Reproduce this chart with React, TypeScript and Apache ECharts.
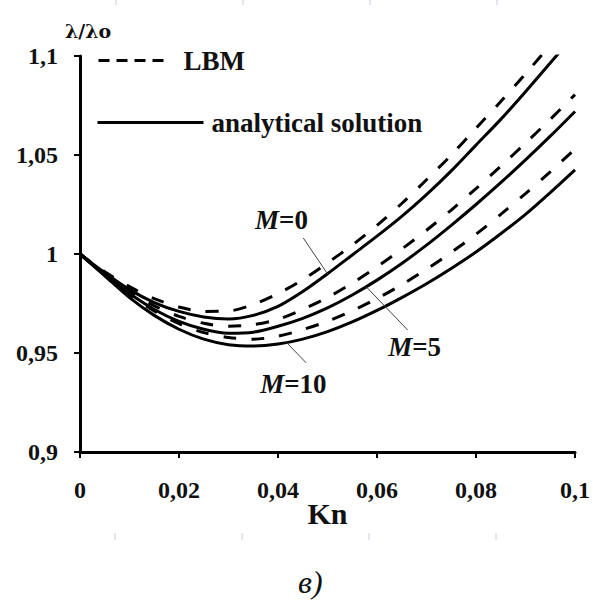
import React, { useEffect, useRef } from "react";
import * as echarts from "echarts";

// Knudsen numbers at which the curves are sampled
const knValues = [
  0, 0.005, 0.01, 0.015, 0.02, 0.025, 0.03, 0.035, 0.04, 0.045, 0.05,
  0.055, 0.06, 0.065, 0.07, 0.075, 0.08, 0.085, 0.09, 0.095, 0.1,
];

// λ/λo, lattice Boltzmann results
const lbmM0 = [
  1, 0.991, 0.9835, 0.9775, 0.9732, 0.971, 0.9712, 0.9745, 0.98, 0.987, 0.9955,
  1.0045, 1.0145, 1.0255, 1.0375, 1.05, 1.0635, 1.077, 1.091, 1.1055, 1.12,
];
const lbmM5 = [
  1, 0.99, 0.981, 0.9738, 0.9685, 0.965, 0.9635, 0.9643, 0.967, 0.972, 0.978,
  0.9853, 0.9935, 1.0025, 1.012, 1.0222, 1.033, 1.0443, 1.056, 1.068, 1.0805,
];
const lbmM10 = [
  1, 0.9895, 0.9795, 0.9712, 0.9648, 0.9603, 0.9578, 0.957, 0.9585, 0.9618, 0.966,
  0.9713, 0.9775, 0.9845, 0.9923, 1.0008, 1.01, 1.02, 1.0305, 1.0415, 1.053,
];

// λ/λo, analytical solution
const anM0 = [
  1, 0.9905, 0.982, 0.9755, 0.971, 0.9682, 0.9672, 0.969, 0.9735, 0.981, 0.99,
  0.9995, 1.009, 1.019, 1.03, 1.042, 1.055, 1.068, 1.082, 1.0965, 1.111,
];
const anM5 = [
  1, 0.9895, 0.98, 0.972, 0.966, 0.962, 0.96, 0.9605, 0.9635, 0.9675, 0.9728,
  0.9793, 0.9868, 0.9952, 1.0045, 1.0145, 1.025, 1.036, 1.0475, 1.0595, 1.072,
];
const anM10 = [
  1, 0.989, 0.978, 0.969, 0.962, 0.957, 0.9542, 0.9535, 0.9545, 0.957, 0.9608,
  0.9657, 0.9715, 0.978, 0.985, 0.9927, 1.001, 1.0102, 1.02, 1.031, 1.0425,
];

const xTickLabels = ["0", "0,02", "0,04", "0,06", "0,08", "0,1"];
const yTickLabels = ["0,9", "0,95", "1", "1,05", "1,1"];

const seriesNames = ["LBM", "analytical solution"];
const mLabels = ["0", "5", "10"];

const FONT = "'Liberation Serif', 'Times New Roman', serif";
const TRANSPARENT = "rgba(0,0,0,0)";

// curve annotations: label centre, leader start, and the Kn where the leader meets its curve
const annotations = [
  { curve: anM0, text: mLabels[0], label: [0.0407, 1.0172], from: [0.0451, 1.0081], atKn: 0.05 },
  { curve: anM5, text: mLabels[1], label: [0.0676, 0.953], from: [0.0662, 0.9616], atKn: 0.0578 },
  { curve: anM10, text: mLabels[2], label: [0.0431, 0.9343], from: [0.0457, 0.945], atKn: 0.0417 },
];

function interp(xs: number[], ys: number[], x: number): number {
  for (let i = 1; i < xs.length; i++) {
    if (x <= xs[i]) {
      const t = (x - xs[i - 1]) / (xs[i] - xs[i - 1]);
      return ys[i - 1] + t * (ys[i] - ys[i - 1]);
    }
  }
  return ys[ys.length - 1];
}

function pairs(vals: number[]) {
  return knValues.map((k, i) => [k, vals[i]]);
}

export default function App() {
  const ref = useRef<HTMLDivElement>(null);

  useEffect(() => {
    if (!ref.current) return;
    const chart = echarts.init(ref.current, null, { renderer: "svg" });

    const dashed = (vals: number[]) => ({
      type: "line",
      name: seriesNames[0],
      data: pairs(vals),
      symbol: "none",
      smooth: 0.3,
      itemStyle: { color: "#000" },
      lineStyle: { color: "#000", width: 3, type: [13, 15] },
      z: 3,
    });
    const solid = (vals: number[]) => ({
      type: "line",
      name: seriesNames[1],
      data: pairs(vals),
      symbol: "none",
      smooth: 0.3,
      itemStyle: { color: "#000" },
      lineStyle: { color: "#000", width: 3, type: "solid" },
      z: 2,
    });

    const legendText = { fontFamily: FONT, fontSize: 27, fontWeight: "bold", color: "#111" };
    const hiddenMarker = { color: TRANSPARENT, borderColor: TRANSPARENT, borderWidth: 0 };

    chart.setOption({
      animation: false,
      backgroundColor: "#fff",
      title: [
        {
          text: "λ/λo",
          left: 65,
          top: 21,
          padding: 0,
          textStyle: { fontFamily: "'DejaVu Serif', serif", fontSize: 19, fontWeight: "bold", color: "#111" },
        },
        {
          text: "в)",
          left: 298,
          top: 566,
          padding: 0,
          textStyle: { fontFamily: FONT, fontSize: 32, fontStyle: "italic", fontWeight: "normal", color: "#111" },
        },
      ],
      legend: [
        {
          data: [seriesNames[0]],
          left: 97,
          top: 47,
          padding: 0,
          itemWidth: 66,
          itemHeight: 14,
          selectedMode: false,
          itemStyle: hiddenMarker,
          lineStyle: { width: 3, type: [11, 7], color: "#000" },
          textStyle: { ...legendText, padding: [0, 0, 0, 14] },
        },
        {
          data: [seriesNames[1]],
          left: 96,
          top: 109,
          padding: 0,
          itemWidth: 106,
          itemHeight: 14,
          selectedMode: false,
          itemStyle: hiddenMarker,
          lineStyle: { width: 3, color: "#000" },
          textStyle: { ...legendText, padding: [0, 0, 0, 3] },
        },
      ],
      grid: { left: 80, right: 14, top: 56, bottom: 148, containLabel: false },
      xAxis: {
        type: "value",
        min: 0,
        max: 0.1,
        interval: 0.02,
        name: "Kn",
        nameLocation: "middle",
        nameGap: 46,
        nameMoveOverlap: false,
        nameTextStyle: { fontFamily: FONT, fontSize: 30, fontWeight: "bold", color: "#111" },
        axisLine: { lineStyle: { color: "#000", width: 3 } },
        axisTick: { length: 6, lineStyle: { color: "#000", width: 2 } },
        splitLine: { show: false },
        axisLabel: {
          margin: 26,
          fontFamily: FONT,
          fontSize: 24,
          fontWeight: "bold",
          color: "#111",
          formatter: (v: number) => xTickLabels[Math.round(v / 0.02)],
        },
      },
      yAxis: {
        type: "value",
        min: 0.9,
        max: 1.1,
        interval: 0.05,
        axisLine: { show: true, lineStyle: { color: "#000", width: 3 } },
        axisTick: { show: true, length: 6, lineStyle: { color: "#000", width: 2 } },
        splitLine: { show: false },
        axisLabel: {
          margin: 22,
          fontFamily: FONT,
          fontSize: 24,
          fontWeight: "bold",
          color: "#111",
          formatter: (v: number) => yTickLabels[Math.round((v - 0.9) / 0.05)],
        },
      },
      series: [dashed(lbmM0), solid(anM0), dashed(lbmM5), solid(anM5), dashed(lbmM10), solid(anM10)],
    });

    const px = (p: number[]) => chart.convertToPixel({ gridIndex: 0 }, p) as number[];
    const graphics: any[] = [];
    annotations.forEach((a) => {
      const end = px([a.atKn, interp(knValues, a.curve, a.atKn)]);
      const start = px(a.from);
      const c = px(a.label);
      graphics.push({
        type: "line",
        shape: { x1: start[0], y1: start[1], x2: end[0], y2: end[1] },
        style: { stroke: "#444", lineWidth: 1 },
        z: 10,
      });
      graphics.push({
        type: "text",
        x: c[0],
        y: c[1],
        z: 10,
        style: {
          text: `{i|M}{n|=${a.text}}`,
          align: "center",
          verticalAlign: "middle",
          rich: {
            i: { fontFamily: FONT, fontSize: 27, fontWeight: "bold", fontStyle: "italic", fill: "#111" },
            n: { fontFamily: FONT, fontSize: 27, fontWeight: "bold", fill: "#111" },
          },
        },
      });
    });
    // faint page ruler marks along the top and bottom
    [116, 243, 370, 497].forEach((x) => {
      graphics.push({ type: "line", shape: { x1: x, y1: 0, x2: x, y2: 5 }, style: { stroke: "#c9cedf", lineWidth: 1 } });
      graphics.push({ type: "line", shape: { x1: x - 1, y1: 533, x2: x - 1, y2: 540 }, style: { stroke: "#c9cedf", lineWidth: 1 } });
    });
    chart.setOption({ graphic: graphics });

    return () => chart.dispose();
  }, []);

  return <div ref={ref} style={{ position: "fixed", left: 0, top: 0, width: 593, height: 600 }} />;
}
